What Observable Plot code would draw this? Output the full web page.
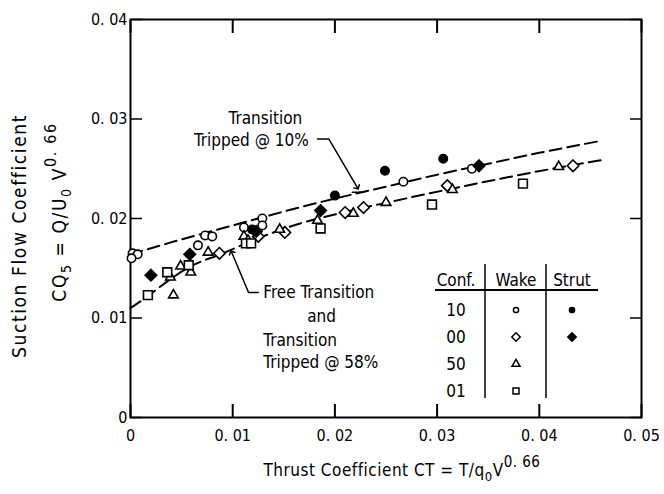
<!DOCTYPE html>
<html><head><meta charset="utf-8">
<script src="https://cdn.jsdelivr.net/npm/d3@7"></script>
<script src="https://cdn.jsdelivr.net/npm/@observablehq/plot@0.6"></script>
<style>
body{margin:0;background:#fff;}
#chart{position:relative;width:664px;height:494px;}
svg{font-family:"DejaVu Sans Condensed","DejaVu Sans",sans-serif;font-stretch:condensed;}
</style></head><body><div id="chart"></div>
<script>
// ---- axis ticks ----
const xTicks = [0, 0.01, 0.02, 0.03, 0.04, 0.05];
const xTickLabels = ["0", "0. 01", "0. 02", "0. 03", "0. 04", "0. 05"];
const yTicks = [0, 0.01, 0.02, 0.03, 0.04];
const yTickLabels = ["0", "0. 01", "0. 02", "0. 03", "0. 04"];

// ---- legend categories ----
const confs = ["10", "00", "50", "01"];
const mounts = ["Wake", "Strut"];

// ---- data: thrust coefficient CT, suction flow coefficient CQ5 ----
const wake10CT = [0.0002, 0.0007, 0.0001, 0.0066, 0.0073, 0.0080, 0.0111, 0.0129, 0.0129, 0.0267, 0.0334];
const wake10CQ = [0.0165, 0.0164, 0.0160, 0.0173, 0.0183, 0.0182, 0.0191, 0.0200, 0.0193, 0.0237, 0.0250];
const strut10CT = [0.0119, 0.0200, 0.0249, 0.0306];
const strut10CQ = [0.0189, 0.0223, 0.0248, 0.0260];
const wake00CT = [0.0087, 0.0125, 0.0151, 0.0210, 0.0228, 0.0310, 0.0433];
const wake00CQ = [0.0165, 0.0182, 0.0186, 0.0206, 0.0211, 0.0233, 0.0253];
const strut00CT = [0.0020, 0.0058, 0.0123, 0.0186, 0.0341];
const strut00CQ = [0.0143, 0.0164, 0.0187, 0.0208, 0.0253];
const wake50CT = [0.0042, 0.0039, 0.0049, 0.0059, 0.0076, 0.0111, 0.0115, 0.0146, 0.0183, 0.0218, 0.0250, 0.0315, 0.0419];
const wake50CQ = [0.0123, 0.0141, 0.0152, 0.0146, 0.0166, 0.0182, 0.0178, 0.0189, 0.0198, 0.0205, 0.0216, 0.0229, 0.0252];
const wake01CT = [0.0017, 0.0036, 0.0057, 0.0113, 0.0118, 0.0186, 0.0295, 0.0384];
const wake01CQ = [0.0123, 0.0146, 0.0153, 0.0175, 0.0175, 0.0190, 0.0214, 0.0235];

// ---- faired curves ----
const upperCT = [0, 0.005, 0.010, 0.015, 0.020, 0.025, 0.030, 0.035, 0.040, 0.046];
const upperCQ = [0.0164, 0.0179, 0.0193, 0.0207, 0.0220, 0.0232, 0.0244, 0.0255, 0.0266, 0.0278];
const lowerCT = [0, 0.0017, 0.0039, 0.0059, 0.0088, 0.0127, 0.0166, 0.0208, 0.0251, 0.0310, 0.0362, 0.0418, 0.0463];
const lowerCQ = [0.0110, 0.0122, 0.0139, 0.0152, 0.0164, 0.0181, 0.0195, 0.0206, 0.0216, 0.0229, 0.0240, 0.0251, 0.0259];

// ---- annotations ----
const labelTexts = ["Transition", "Tripped @ 10%", "Free Transition", "and", "Transition", "Tripped @ 58%"];
const labelCT = [0.0132, 0.01745, 0.0130, 0.0187, 0.0130, 0.0130];
const labelCQ = [0.0300, 0.0278, 0.01256, 0.01015, 0.00770, 0.00550];
const labelAnchor = ["middle", "end", "start", "middle", "start", "start"];
const leaderUpperCT = [0.0183, 0.0194, 0.0222];
const leaderUpperCQ = [0.0280, 0.0280, 0.0231];
const leaderBarCT = [0.0217, 0.0228];
const leaderBarCQ = [0.02265, 0.02265];
const leaderLowerCT = [0.0125, 0.01155, 0.0099];
const leaderLowerCQ = [0.01256, 0.01256, 0.0166];

const zip = (xs, ys) => xs.map((x, i) => ({ct: x, cq: ys[i]}));
const series = [
  {conf: "10", mount: "Wake", pts: zip(wake10CT, wake10CQ)},
  {conf: "10", mount: "Strut", pts: zip(strut10CT, strut10CQ)},
  {conf: "00", mount: "Wake", pts: zip(wake00CT, wake00CQ)},
  {conf: "00", mount: "Strut", pts: zip(strut00CT, strut00CQ)},
  {conf: "50", mount: "Wake", pts: zip(wake50CT, wake50CQ)},
  {conf: "01", mount: "Wake", pts: zip(wake01CT, wake01CQ)}
];
const symbolOf = {"10": "circle", "00": "diamond2", "50": "triangle2", "01": "square2"};
const rOf = {"10": 4.2, "00": 5.2, "50": 4.6, "01": 5.6};
const d3SymbolOf = {"10": d3.symbolCircle, "00": d3.symbolDiamond2, "50": d3.symbolTriangle2, "01": d3.symbolSquare2};

const labels = labelTexts.map((t, i) => ({t, ct: labelCT[i], cq: labelCQ[i], a: labelAnchor[i]}));
const xFmt = new Map(xTicks.map((d, i) => [d, xTickLabels[i]]));
const yFmt = new Map(yTicks.map((d, i) => [d, yTickLabels[i]]));
const font = '"DejaVu Sans Condensed","DejaVu Sans",sans-serif';

const dotMarks = series.map(s => Plot.dot(s.pts, {
  x: "ct", y: "cq", symbol: symbolOf[s.conf], r: rOf[s.conf],
  stroke: "black", strokeWidth: 1.6,
  fill: s.mount === "Strut" ? "black" : "white"
}));
const textMarks = ["start", "middle", "end"].map(a => Plot.text(labels.filter(d => d.a === a), {
  x: "ct", y: "cq", text: "t", textAnchor: a, fontSize: 17, fill: "black"
}));

const chart = Plot.plot({
  width: 664, height: 494,
  marginLeft: 130, marginRight: 23, marginTop: 19, marginBottom: 77,
  x: {domain: [0, 0.05]},
  y: {domain: [0, 0.04]},
  style: {fontFamily: font, fontSize: "16px", color: "black", background: "white"},
  marks: [
    Plot.frame({strokeWidth: 2}),
    Plot.axisX(xTicks, {anchor: "bottom", tickSize: -13, tickFormat: () => "", strokeWidth: 2, label: null}),
    Plot.axisX(xTicks, {anchor: "top", tickSize: -13, tickFormat: () => "", strokeWidth: 2, label: null}),
    Plot.axisY(yTicks, {anchor: "left", tickSize: -12, tickFormat: () => "", strokeWidth: 1.5, label: null}),
    Plot.axisY(yTicks, {anchor: "right", tickSize: -12, tickFormat: () => "", strokeWidth: 1.5, label: null}),
    Plot.axisX(xTicks, {anchor: "bottom", tickSize: 0, tickPadding: 12, tickFormat: d => xFmt.get(d), fontSize: 16, label: null}),
    Plot.axisY(yTicks, {anchor: "left", tickSize: 0, tickPadding: 3, tickFormat: d => yFmt.get(d), fontSize: 16, label: null}),
    Plot.line(zip(upperCT, upperCQ), {x: "ct", y: "cq", curve: "natural", stroke: "black", strokeWidth: 2, strokeDasharray: "12,6"}),
    Plot.line(zip(lowerCT, lowerCQ), {x: "ct", y: "cq", curve: "monotone-x", stroke: "black", strokeWidth: 2, strokeDasharray: "12,6"}),
    Plot.line(zip(leaderUpperCT, leaderUpperCQ), {x: "ct", y: "cq", stroke: "black", strokeWidth: 1.5, markerEnd: "arrow"}),
    Plot.line(zip(leaderBarCT, leaderBarCQ), {x: "ct", y: "cq", stroke: "black", strokeWidth: 1.5}),
    Plot.line(zip(leaderLowerCT, leaderLowerCQ), {x: "ct", y: "cq", stroke: "black", strokeWidth: 1.5, markerEnd: "arrow"}),
    ...textMarks,
    ...dotMarks
  ]
});
document.getElementById("chart").appendChild(chart);

// ---- axis titles with sub/superscripts ----
const svg = d3.select(chart);
const xl = svg.append("text").attr("x", 402).attr("y", 476).attr("text-anchor", "middle")
  .attr("font-family", font).attr("font-size", 17).attr("letter-spacing", 0.5).attr("fill", "black");
xl.append("tspan").text("Thrust Coefficient CT = T/q");
xl.append("tspan").attr("dy", 5).attr("font-size", 13).text("0");
xl.append("tspan").attr("dy", -5).text("V");
xl.append("tspan").attr("dy", -9).attr("font-size", 15).text("0. 66");

const yl = svg.append("g").attr("transform", "translate(26,236) rotate(-90)")
  .attr("font-family", font).attr("font-size", 19).attr("letter-spacing", 1.6).attr("fill", "black");
yl.append("text").attr("text-anchor", "middle").text("Suction Flow Coefficient");
const yl2 = yl.append("text").attr("x", 24).attr("y", 40).attr("text-anchor", "middle");
yl2.append("tspan").text("CQ");
yl2.append("tspan").attr("dy", 5).attr("font-size", 14).text("5");
yl2.append("tspan").attr("dy", -5).text(" = Q/U");
yl2.append("tspan").attr("dy", 5).attr("font-size", 14).text("0");
yl2.append("tspan").attr("dy", -5).text(" V");
yl2.append("tspan").attr("dy", -10).attr("font-size", 16).text("0. 66");

// ---- legend table ----
const lg = svg.append("g").attr("font-family", font).attr("font-size", 17).attr("fill", "black");
const colX = {Conf: 456, Wake: 516, Strut: 572};
const headY = 286, rowY0 = 310, rowDY = 27;
lg.append("text").attr("x", colX.Conf).attr("y", headY).attr("text-anchor", "middle").text("Conf.");
mounts.forEach(m => lg.append("text").attr("x", colX[m]).attr("y", headY).attr("text-anchor", "middle").text(m));
lg.append("line").attr("x1", 435).attr("x2", 598).attr("y1", 290).attr("y2", 290).attr("stroke", "black").attr("stroke-width", 1.8);
[485, 546].forEach(x => lg.append("line").attr("x1", x).attr("x2", x).attr("y1", 264).attr("y2", 398).attr("stroke", "black").attr("stroke-width", 1.5));
confs.forEach((c, i) => {
  const y = rowY0 + i * rowDY;
  lg.append("text").attr("x", colX.Conf).attr("y", y + 6).attr("text-anchor", "middle").text(c);
  series.filter(s => s.conf === c).forEach(s => {
    const sz = (c === "10" ? 2.6 : 3.8);
    lg.append("path").attr("d", d3.symbol(d3SymbolOf[c], Math.PI * sz * sz)())
      .attr("transform", `translate(${colX[s.mount]},${y})`)
      .attr("fill", s.mount === "Strut" ? "black" : "white").attr("stroke", "black").attr("stroke-width", 1.5);
  });
});
</script></body></html>
